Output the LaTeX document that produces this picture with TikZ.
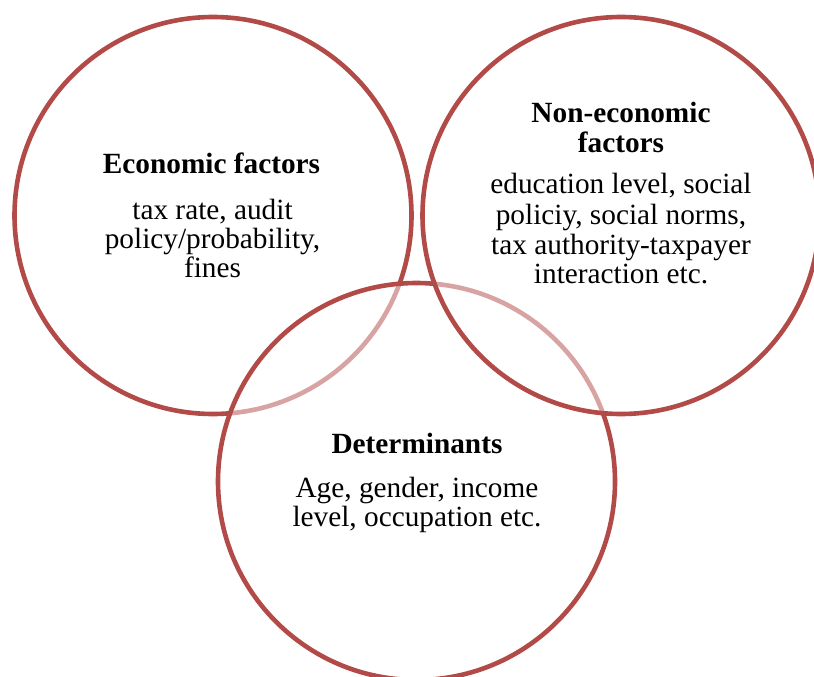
\documentclass[tikz,border=0pt]{standalone}
\usepackage{fontspec}
\setmainfont{Liberation Serif}
\definecolor{ring}{HTML}{B24A47}
\begin{document}
\begin{tikzpicture}[x=1pt,y=-1pt,
  venn/.style={circle, draw=ring, line width=4.6pt, fill=white, fill opacity=0.5,
               inner sep=0pt, minimum size=397pt},
  head/.style={anchor=base, inner sep=0pt, font=\fontsize{29.3}{30}\selectfont\bfseries},
  body/.style={anchor=base, inner sep=0pt, font=\fontsize{29.3}{30}\selectfont}]
\useasboundingbox (0,0) rectangle (814,677);
\clip (0,0) rectangle (814,677);

% three overlapping sets; later circles veil the outlines of earlier ones
\node[venn] (econ) at (213,215.5) {};
\node[venn] (det)  at (416.5,481.5) {};
\node[venn] (non)  at (621,215.5) {};

% economic factors
\node[head] (econH)  at (211.5,173) {Economic factors};
\node[body] (econB1) at (212.5,219) {tax rate, audit};
\node[body] (econB2) at (212.5,248) {policy/probability,};
\node[body] (econB3) at (212.5,277) {fines};

% non-economic factors
\node[head] (nonH1) at (621,122) {Non-economic};
\node[head] (nonH2) at (621,152) {factors};
\node[body] (nonB1) at (621,193) {education level, social};
\node[body] (nonB2) at (621,224) {policiy, social norms,};
\node[body] (nonB3) at (621,254) {tax authority-taxpayer};
\node[body] (nonB4) at (621,283) {interaction etc.};

% determinants
\node[head] (detH)  at (417,453) {Determinants};
\node[body] (detB1) at (417,497) {Age, gender, income};
\node[body] (detB2) at (417,526) {level, occupation etc.};
\end{tikzpicture}
\end{document}
